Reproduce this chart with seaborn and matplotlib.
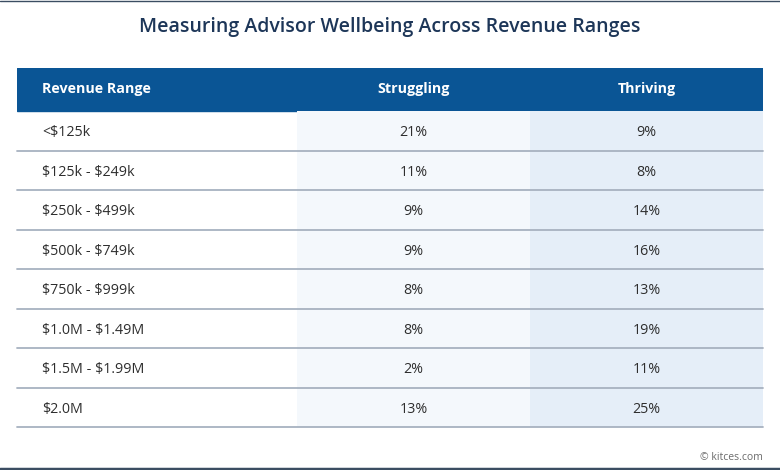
import matplotlib.pyplot as plt
import numpy as np
import seaborn as sns
from matplotlib.colors import ListedColormap
from matplotlib.lines import Line2D

# table data
revenue = ["<$125k", "$125k - $249k", "$250k - $499k", "$500k - $749k",
           "$750k - $999k", "$1.0M - $1.49M", "$1.5M - $1.99M", "$2.0M"]
struggling = [21, 11, 9, 9, 8, 8, 2, 13]
thriving = [9, 8, 14, 16, 13, 19, 11, 25]
columns = ["Struggling", "Thriving"]

sns.set_theme(style="white")
plt.rcParams['font.family'] = ['Open Sans', 'DejaVu Sans']
plt.rcParams['text.parse_math'] = False   # dollar signs are plain text here

W, H = 780, 470
fig = plt.figure(figsize=(W / 100, H / 100), dpi=100)

# table axes: x from 17px to 763px, y from 68px (header top) to 427px
left, right, top, bottom = 17, 763, 68, 427
ax = fig.add_axes([left / W, 1 - bottom / H, (right - left) / W, (bottom - top) / H])

vals = np.array([struggling, thriving]).T
col_idx = np.tile([0, 1], (len(revenue), 1))
labels = np.array([[f"{v}%" for v in row] for row in vals])

sns.heatmap(col_idx, ax=ax, cmap=ListedColormap(["#f4f8fc", "#e5eef8"]),
            cbar=False, annot=labels, fmt="",
            annot_kws={"color": "#2e2e2e", "fontsize": 10.3},
            xticklabels=False, yticklabels=False)

row_h = 39.5
col_w = 233
first_w = 280 / col_w          # first (label) column in cell units
head_h = 43 / row_h            # header band height in row units
ax.set_xlim(-first_w, 2)
ax.set_ylim(len(revenue), -head_h)
ax.axis("off")

# header band
ax.axhspan(-head_h, 0, color="#0a5595", zorder=0)
ax.text(-first_w + 25 / col_w, -head_h / 2, "Revenue Range", color="white",
        fontsize=10.3, fontweight="bold", va="center", ha="left")
for i, c in enumerate(columns):
    ax.text(i + 0.5, -head_h / 2, c, color="white", fontsize=10.3,
            fontweight="bold", va="center", ha="center")

# row labels
for i, r in enumerate(revenue):
    ax.text(-first_w + 25 / col_w, i + 0.55, r, color="#2e2e2e", fontsize=10.3,
            va="center", ha="left")
for t in ax.texts[:len(revenue) * 2]:
    x, y = t.get_position()
    t.set_position((x, y + 0.05))

# separators under each row
for i in range(1, len(revenue) + 1):
    ax.axhline(i, color="#a7b2c0", lw=1.3, clip_on=False, zorder=3)

fig.text(0.5, 1 - 27 / H, "Measuring Advisor Wellbeing Across Revenue Ranges",
         ha="center", va="center", fontsize=14, fontweight="semibold",
         color="#1d3658")
fig.text(763 / W, 1 - 457 / H, "© kitces.com", ha="right", va="center",
         fontsize=7.5, color="#6b6b6b")

# thin frame lines top and bottom
fig.add_artist(Line2D([0, 1], [1 - 0.5 / H, 1 - 0.5 / H], color="#3b4d62", lw=1))
fig.add_artist(Line2D([0, 1], [1.5 / H, 1.5 / H], color="#3b4d62", lw=2.5))

fig.savefig("out.png", dpi=100)
